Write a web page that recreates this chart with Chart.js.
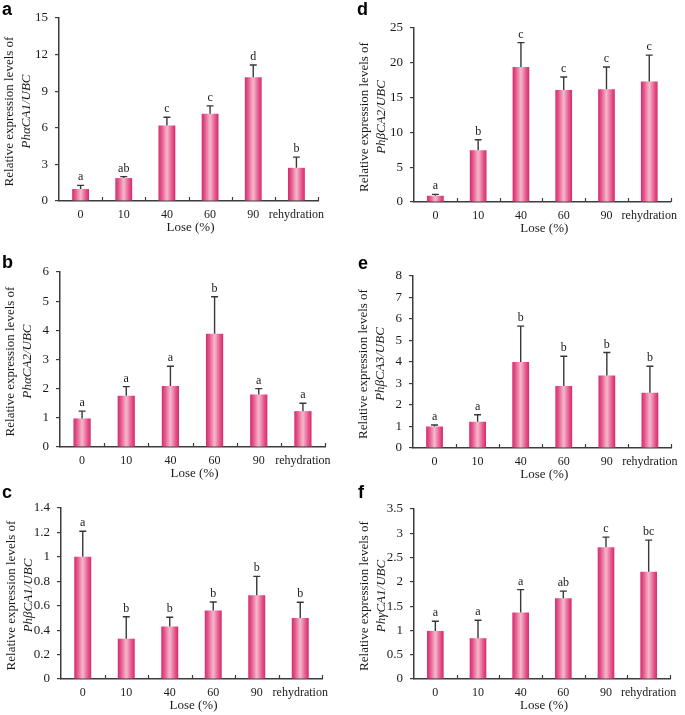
<!DOCTYPE html>
<html><head><meta charset="utf-8">
<script src="https://cdn.jsdelivr.net/npm/chart.js@4.4.1/dist/chart.umd.min.js"></script>
<style>
html,body{margin:0;padding:0;background:#fff;}
#wrap{position:relative;width:685px;height:715px;overflow:hidden;background:#fff;}
</style></head><body><div id="wrap"></div>
<script>
// ---------- data ----------
const categories = ['0', '10', '40', '60', '90', 'rehydration'];
const xTitle = 'Lose (%)';
const yTitleLine = 'Relative expression levels of';

const geneA = 'PhαCA1/UBC';
const ticksA = [0, 3, 6, 9, 12, 15];
const valuesA = [0.98, 1.88, 6.18, 7.15, 10.15, 2.72];
const errorsA = [0.30, 0.12, 0.68, 0.65, 1.00, 0.88];
const lettersA = ['a', 'ab', 'c', 'c', 'd', 'b'];

const geneB = 'PhαCA2/UBC';
const ticksB = [0, 1, 2, 3, 4, 5, 6];
const valuesB = [0.98, 1.76, 2.09, 3.88, 1.80, 1.23];
const errorsB = [0.25, 0.31, 0.68, 1.27, 0.20, 0.27];
const lettersB = ['a', 'a', 'a', 'b', 'a', 'a'];

const geneC = 'PhβCA1/UBC';
const ticksC = [0, 0.2, 0.4, 0.6, 0.8, 1, 1.2, 1.4];
const valuesC = [1.0, 0.33, 0.43, 0.56, 0.685, 0.50];
const errorsC = [0.21, 0.18, 0.075, 0.07, 0.155, 0.128];
const lettersC = ['a', 'b', 'b', 'b', 'b', 'b'];

const geneD = 'PhβCA2/UBC';
const ticksD = [0, 5, 10, 15, 20, 25];
const valuesD = [0.9, 7.45, 19.4, 16.1, 16.2, 17.3];
const errorsD = [0.2, 1.5, 3.5, 1.85, 3.2, 3.8];
const lettersD = ['a', 'b', 'c', 'c', 'c', 'c'];

const geneE = 'PhβCA3/UBC';
const ticksE = [0, 1, 2, 3, 4, 5, 6, 7, 8];
const valuesE = [1.0, 1.22, 4.0, 2.88, 3.37, 2.57];
const errorsE = [0.07, 0.33, 1.67, 1.39, 1.07, 1.23];
const lettersE = ['a', 'a', 'b', 'b', 'b', 'b'];

const geneF = 'PhγCA1/UBC';
const ticksF = [0, 0.5, 1, 1.5, 2, 2.5, 3, 3.5];
const valuesF = [0.99, 0.84, 1.37, 1.66, 2.71, 2.21];
const errorsF = [0.20, 0.37, 0.47, 0.15, 0.21, 0.65];
const lettersF = ['a', 'a', 'a', 'ab', 'c', 'bc'];

// ---------- drawing ----------
const SERIF = "'Liberation Serif','Times New Roman',serif";
const SANS = "'Liberation Sans',Arial,sans-serif";
const AX = '#3c3c3c';
const TXT = '#1a1a1a';
const BAR_PCT = 0.39;
const wrap = document.getElementById('wrap');

function panel(o) {
  const cv = document.createElement('canvas');
  cv.width = o.pane.w; cv.height = o.pane.h;
  cv.style.cssText = `position:absolute;left:${o.pane.x}px;top:${o.pane.y}px;`;
  wrap.appendChild(cv);
  const WY = 40, HX = 25;
  const pad = {
    left: o.area.l - o.pane.x - WY,
    top: o.area.t - o.pane.y,
    right: o.pane.x + o.pane.w - o.area.r,
    bottom: o.pane.y + o.pane.h - o.area.b - HX
  };
  const ymax = o.ticks[o.ticks.length - 1];
  const grad = (c) => {
    const chart = c.chart;
    const xs = chart.scales.x;
    if (!xs || !chart.chartArea) return '#e0457f';
    const cx = xs.getPixelForValue(c.dataIndex);
    const w = (xs.right - xs.left) / categories.length * BAR_PCT;
    const g = chart.ctx.createLinearGradient(cx - w / 2, 0, cx + w / 2, 0);
    g.addColorStop(0, '#d62a6c');
    g.addColorStop(0.18, '#e4538a');
    g.addColorStop(0.5, '#f6b8cd');
    g.addColorStop(0.82, '#e4538a');
    g.addColorStop(1, '#d62a6c');
    return g;
  };
  new Chart(cv, {
    type: 'bar',
    data: {
      labels: categories,
      datasets: [{
        data: o.values,
        backgroundColor: grad,
        borderWidth: 0,
        barPercentage: BAR_PCT,
        categoryPercentage: 1
      }]
    },
    options: {
      responsive: false,
      animation: false,
      events: [],
      layout: { padding: pad },
      plugins: { legend: { display: false }, tooltip: { enabled: false } },
      scales: {
        x: {
          grid: { display: false, drawTicks: false, tickLength: 0 },
          border: { display: true, color: AX, width: 1.5 },
          ticks: { color: TXT, font: { family: SERIF, size: 12 }, padding: 7, maxRotation: 0, autoSkip: false },
          afterFit: s => { s.height = HX; }
        },
        y: {
          min: 0, max: ymax,
          grid: { display: true, drawOnChartArea: false, drawTicks: true, tickLength: 4, color: AX, lineWidth: 1.2 },
          border: { display: true, color: AX, width: 1.5 },
          ticks: { color: TXT, font: { family: SERIF, size: 13 }, padding: 7, callback: v => String(v) },
          afterBuildTicks: s => { s.ticks = o.ticks.map(v => ({ value: v })); },
          afterFit: s => { s.width = WY; }
        }
      }
    },
    plugins: [{
      id: 'deco',
      afterDraw(chart) {
        const ctx = chart.ctx, xs = chart.scales.x, ys = chart.scales.y, ca = chart.chartArea;
        const n = categories.length;
        const step = (ca.right - ca.left) / n;
        ctx.save();
        // inward x tick marks at category boundaries
        ctx.strokeStyle = AX; ctx.lineWidth = 1.2;
        for (let i = 1; i <= n; i++) {
          const x = Math.round(ca.left + i * step) + 0.5;
          ctx.beginPath(); ctx.moveTo(x, ca.bottom); ctx.lineTo(x, ca.bottom - 4); ctx.stroke();
        }
        // error bars and significance letters
        ctx.strokeStyle = '#383838'; ctx.lineWidth = 1.4;
        ctx.fillStyle = TXT;
        ctx.font = `12px ${SERIF}`;
        ctx.textAlign = 'center'; ctx.textBaseline = 'alphabetic';
        o.values.forEach((v, i) => {
          const cx = xs.getPixelForValue(i);
          const y0 = ys.getPixelForValue(v);
          const y1 = ys.getPixelForValue(v + o.errors[i]);
          ctx.beginPath();
          ctx.moveTo(cx, y0); ctx.lineTo(cx, y1);
          ctx.moveTo(cx - 3.5, y1); ctx.lineTo(cx + 3.5, y1);
          ctx.stroke();
          ctx.fillText(o.letters[i], cx, y1 - 5);
        });
        // y axis title (two lines, second italic)
        const cy = (ca.top + ca.bottom) / 2 + 2;
        ctx.save();
        ctx.translate(ca.left - 49, cy);
        ctx.rotate(-Math.PI / 2);
        ctx.textAlign = 'center'; ctx.textBaseline = 'middle';
        ctx.font = `13px ${SERIF}`;
        ctx.fillText(yTitleLine, 0, 0);
        ctx.restore();
        ctx.save();
        ctx.translate(ca.left - 32, cy);
        ctx.rotate(-Math.PI / 2);
        ctx.textAlign = 'center'; ctx.textBaseline = 'middle';
        ctx.font = `italic 13px ${SERIF}`;
        ctx.fillText(o.gene, 0, 0);
        ctx.restore();
        // x axis title
        ctx.textAlign = 'center'; ctx.textBaseline = 'middle';
        ctx.font = `13px ${SERIF}`;
        ctx.fillText(xTitle, (ca.left + ca.right) / 2 + 2, ca.bottom + 27);
        // panel letter
        ctx.textAlign = 'left'; ctx.textBaseline = 'alphabetic';
        ctx.font = `bold 18px ${SANS}`;
        ctx.fillStyle = '#000';
        ctx.fillText(o.tag, o.tagPos[0] - o.pane.x, o.tagPos[1] - o.pane.y);
        ctx.restore();
      }
    }]
  });
}

panel({ pane: { x: 0, y: 0, w: 340, h: 240 }, area: { l: 59, t: 18, r: 318, b: 201 },
  ticks: ticksA, values: valuesA, errors: errorsA, letters: lettersA, gene: geneA, tag: 'a', tagPos: [2, 15] });
panel({ pane: { x: 0, y: 240, w: 340, h: 245 }, area: { l: 60, t: 272, r: 325, b: 447 },
  ticks: ticksB, values: valuesB, errors: errorsB, letters: lettersB, gene: geneB, tag: 'b', tagPos: [2, 268] });
panel({ pane: { x: 0, y: 485, w: 340, h: 230 }, area: { l: 61, t: 508, r: 322, b: 679 },
  ticks: ticksC, values: valuesC, errors: errorsC, letters: lettersC, gene: geneC, tag: 'c', tagPos: [2, 498] });
panel({ pane: { x: 340, y: 0, w: 345, h: 240 }, area: { l: 414, t: 28, r: 672, b: 202 },
  ticks: ticksD, values: valuesD, errors: errorsD, letters: lettersD, gene: geneD, tag: 'd', tagPos: [357, 15] });
panel({ pane: { x: 340, y: 240, w: 345, h: 245 }, area: { l: 413, t: 276, r: 680, b: 448 },
  ticks: ticksE, values: valuesE, errors: errorsE, letters: lettersE, gene: geneE, tag: 'e', tagPos: [358, 269] });
panel({ pane: { x: 340, y: 485, w: 345, h: 230 }, area: { l: 414, t: 509, r: 670, b: 679 },
  ticks: ticksF, values: valuesF, errors: errorsF, letters: lettersF, gene: geneF, tag: 'f', tagPos: [358, 498] });
</script>
</body></html>
